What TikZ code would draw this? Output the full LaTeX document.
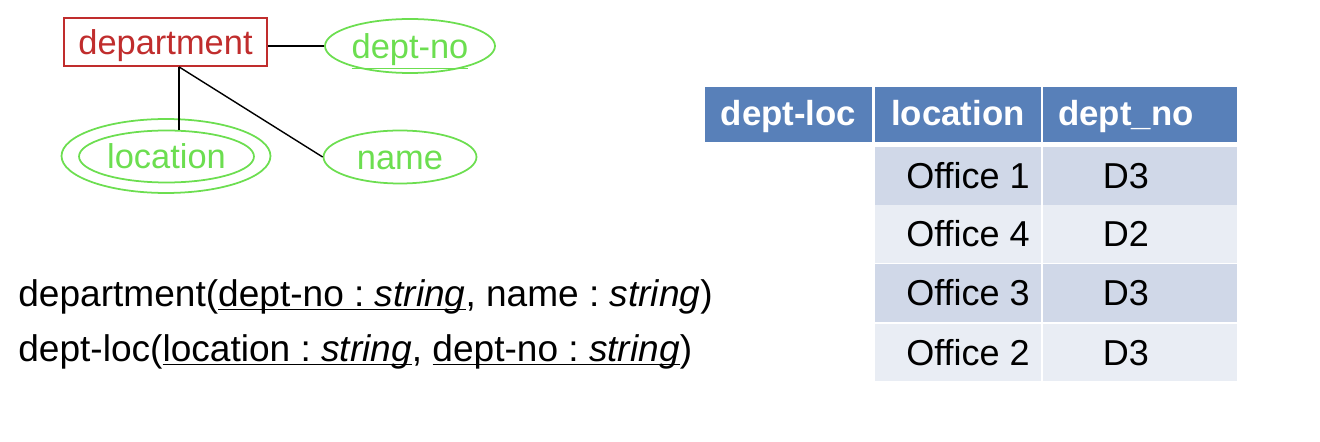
\documentclass[tikz,border=0pt]{standalone}
\usepackage{fontspec}
\setmainfont{Liberation Sans}
\usetikzlibrary{shapes.geometric}
\definecolor{erRed}{RGB}{192,45,45}
\definecolor{erGreen}{RGB}{108,222,80}
\definecolor{tblHead}{RGB}{88,128,185}
\definecolor{tblDark}{RGB}{208,216,232}
\definecolor{tblLight}{RGB}{233,237,244}
\newcommand{\keyul}[1]{\underline{\raisebox{0pt}[\height][0pt]{#1}}}
\frenchspacing

\begin{document}
\begin{tikzpicture}[
    x=0.02cm, y=-0.02cm,
    entity/.style={draw=erRed, line width=1pt, text=erRed, minimum width=4.06cm, minimum height=0.96cm, inner sep=0pt, text height=14pt, text depth=0pt, font=\fontsize{19.6}{22}\selectfont},
    attr/.style={ellipse, draw=erGreen, line width=1pt, text=erGreen, inner sep=0pt, text height=14pt, text depth=0pt, font=\fontsize{19.6}{22}\selectfont},
    link/.style={draw=black, line width=0.8pt},
    hdr/.style={fill=tblHead, text=white, font=\fontsize{19.8}{22}\selectfont\bfseries, minimum height=1.1cm, inner sep=0pt, text height=14pt, text depth=1pt},
    cellA/.style={fill=tblDark, font=\fontsize{20.5}{22}\selectfont, minimum height=1.15cm, inner sep=0pt, text height=14.5pt, text depth=0pt},
    cellB/.style={cellA, fill=tblLight},
    locCol/.style={minimum width=3.32cm, execute at begin node={\hspace*{0.4cm}}},
    noCol/.style={minimum width=3.88cm, execute at end node={\hspace*{0.56cm}}},
    schema/.style={anchor=base west, inner sep=0pt, font=\fontsize{21.1}{24}\selectfont}
  ]
    \useasboundingbox (0,0) rectangle (1320,442);

    % E-R part
    \node[entity] (dept) at (165.5,42) {department};
    \node[attr, minimum width=3.4cm, minimum height=1.08cm] (deptno) at (410,46) {\underline{dept-no}};
    \node[attr, minimum width=3.5cm, minimum height=1.04cm] (location) at (166.5,156.5) {location};
    \node[attr, minimum width=4.18cm, minimum height=1.48cm] (locouter) at (166,156) {};
    \node[attr, minimum width=3.06cm, minimum height=1.06cm] (name) at (400,157) {name};

    \coordinate (fork) at ([xshift=0.27cm]dept.south);
    \draw[link] (deptno.west) -- (deptno.west -| dept.east);
    \draw[link] (fork) -- (fork |- location.north);
    \draw[link] (fork) -- (name.west);

    % relation schemas
    \node[schema] (rel1) at (18,307) {department(\keyul{dept-no : \textit{string}}, name : \textit{string})};
    \node[schema] (rel2) at (18,362) {dept-loc(\keyul{location : \textit{string}}, \keyul{dept-no : \textit{string}})};

    % table
    \node[hdr, minimum width=3.34cm] (h1) at (788.5,114.5) {dept-loc};
    \node[hdr, minimum width=3.32cm] (h2) at (958,114.5) {location};
    \node[hdr, noCol] (h3) at (1140,114.5) {dept\_no};

    \node[cellA, locCol] (r1a) at (958,176) {Office 1};
    \node[cellA, noCol] (r1b) at (1140,176) {D3};
    \node[cellB, locCol] (r2a) at (958,234) {Office 4};
    \node[cellB, noCol] (r2b) at (1140,234) {D2};
    \node[cellA, locCol] (r3a) at (958,293) {Office 3};
    \node[cellA, noCol] (r3b) at (1140,293) {D3};
    \node[cellB, locCol] (r4a) at (958,352.5) {Office 2};
    \node[cellB, noCol] (r4b) at (1140,352.5) {D3};
\end{tikzpicture}
\end{document}
